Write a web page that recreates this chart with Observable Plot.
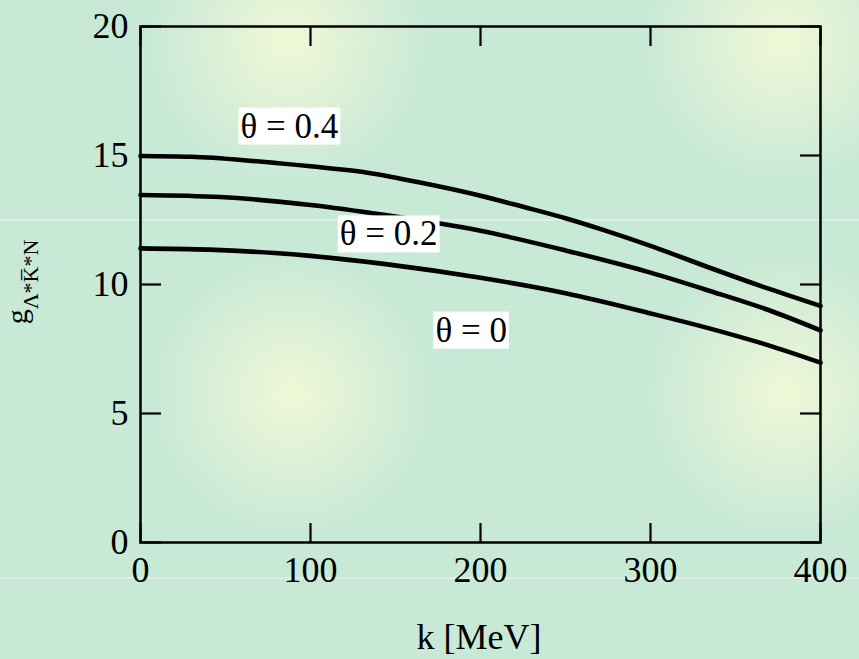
<!DOCTYPE html>
<html>
<head>
<meta charset="utf-8">
<script src="https://cdn.jsdelivr.net/npm/d3@7"></script>
<script src="https://cdn.jsdelivr.net/npm/@observablehq/plot@0.6"></script>
<style>
html, body { margin: 0; padding: 0; width: 859px; height: 659px; overflow: hidden; }
body {
  background:
    linear-gradient(to bottom, rgba(255,255,255,0) 219px, rgba(255,255,255,0.35) 219px, rgba(255,255,255,0.35) 221px, rgba(255,255,255,0) 221px, rgba(255,255,255,0) 577px, rgba(255,255,255,0.35) 577px, rgba(255,255,255,0.35) 579px, rgba(255,255,255,0) 579px),
    radial-gradient(circle 140px at 288px 43px, rgba(240,248,214,1), rgba(240,248,214,0)),
    radial-gradient(circle 140px at 782px 43px, rgba(240,248,214,1), rgba(240,248,214,0)),
    radial-gradient(circle 140px at 292px 395px, rgba(240,248,214,1), rgba(240,248,214,0)),
    radial-gradient(circle 140px at 786px 395px, rgba(240,248,214,1), rgba(240,248,214,0)),
    #c8e9d6;
}
#chart { position: absolute; left: 0; top: 0; }
#chart svg, #chart svg text, #chart svg g { font-family: 'Liberation Serif', 'Times New Roman', serif !important; }
</style>
</head>
<body>
<div id="chart"></div>
<script>
// ---- data ----
const xTicks = [0, 100, 200, 300, 400];
const yTicks = [0, 5, 10, 15, 20];

const k04 = [0, 30, 66, 100, 131, 163, 200, 224, 250, 273, 300, 334, 369, 400];
const g04 = [14.98, 14.95, 14.79, 14.58, 14.36, 13.97, 13.44, 13.03, 12.57, 12.10, 11.50, 10.67, 9.85, 9.17];

const k02 = [0, 47, 100, 143, 200, 250, 300, 334, 369, 400];
const g02 = [13.47, 13.39, 13.08, 12.70, 12.08, 11.32, 10.46, 9.77, 9.02, 8.22];

const k00 = [0, 40, 79, 100, 143, 200, 250, 300, 334, 369, 400];
const g00 = [11.40, 11.35, 11.22, 11.11, 10.80, 10.26, 9.66, 8.88, 8.31, 7.65, 6.97];

const labelText = ["θ = 0.4", "θ = 0.2", "θ = 0"];
const labelK = [87.6, 146, 194.5];
const labelG = [16.13, 11.95, 8.22];

const xLabel = "k [MeV]";
const yLabelMain = "g";
const yLabelSub = "Λ*K\u0305*N";

// ---- tables ----
const toRows = (ks, gs) => ks.map((k, i) => ({k, g: gs[i]}));
const series = [toRows(k04, g04), toRows(k02, g02), toRows(k00, g00)];
const labels = labelText.map((t, i) => ({t, k: labelK[i], g: labelG[i]}));

const FONT = "'Liberation Serif', 'Times New Roman', serif";
const tickStyle = {tickSize: 20, strokeWidth: 2.2, stroke: "black", tickFormat: () => "", label: null};

const svg = Plot.plot({
  width: 859,
  height: 659,
  marginLeft: 140,
  marginRight: 39,
  marginTop: 26,
  marginBottom: 117,
  style: {background: "transparent", fontFamily: FONT, color: "black"},
  x: {domain: [0, 400]},
  y: {domain: [0, 20]},
  marks: [
    // tick labels
    Plot.axisX(xTicks, {anchor: "bottom", tickSize: 0, tickPadding: 14, fontSize: 36, label: null}),
    Plot.axisY(yTicks, {anchor: "left", tickSize: 0, tickPadding: 12, fontSize: 36, label: null}),
    // inward ticks on all four sides
    Plot.axisX(xTicks, {anchor: "top", frameAnchor: "bottom", ...tickStyle}),
    Plot.axisX(xTicks, {anchor: "bottom", frameAnchor: "top", ...tickStyle}),
    Plot.axisY(yTicks, {anchor: "right", frameAnchor: "left", ...tickStyle}),
    Plot.axisY(yTicks, {anchor: "left", frameAnchor: "right", ...tickStyle}),
    Plot.frame({stroke: "black", strokeWidth: 2.5}),
    // curves
    ...series.map(rows => Plot.line(rows, {x: "k", y: "g", stroke: "black", strokeWidth: 4.6, curve: "monotone-x"})),
    // curve labels
    Plot.text(labels, {x: "k", y: "g", text: "t", fontSize: 35, fill: "black"})
  ]
});

document.getElementById("chart").append(svg);

// white boxes behind curve labels
const thetaTexts = Array.from(svg.querySelectorAll("text")).filter(t => labelText.includes(t.textContent));
thetaTexts.forEach(t => {
  const bb = t.getBBox();
  const r = document.createElementNS("http://www.w3.org/2000/svg", "rect");
  r.setAttribute("x", bb.x - 2);
  r.setAttribute("y", bb.y + 1);
  r.setAttribute("width", bb.width + 4);
  r.setAttribute("height", bb.height - 2);
  r.setAttribute("fill", "white");
  const tr = t.getAttribute("transform");
  if (tr) r.setAttribute("transform", tr);
  t.parentNode.insertBefore(r, t);
});

// axis titles
const s = d3.select(svg);
s.append("text")
  .attr("x", 479).attr("y", 649)
  .attr("text-anchor", "middle")
  .attr("font-family", FONT).attr("font-size", 36).attr("fill", "black")
  .text(xLabel);

const yl = s.append("text")
  .attr("transform", "translate(27,282) rotate(-90)")
  .attr("text-anchor", "middle")
  .attr("font-family", FONT).attr("fill", "black");
yl.append("tspan").attr("font-size", 30).text(yLabelMain);
yl.append("tspan").attr("font-size", 22).attr("dy", 11).text(yLabelSub);
</script>
</body>
</html>
